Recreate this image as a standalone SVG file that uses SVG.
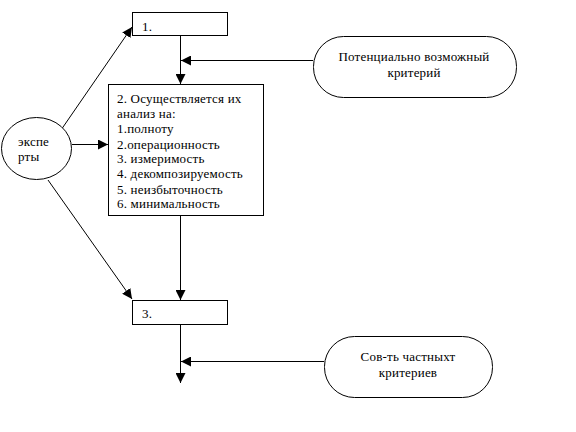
<svg xmlns="http://www.w3.org/2000/svg" width="576" height="432" viewBox="0 0 576 432">
<style>
text{font-family:"Liberation Serif","Times New Roman",serif;font-size:13px;letter-spacing:0.2px;fill:#000}
.b{fill:#fff;stroke:#000;stroke-width:1}
.c{fill:none;stroke:#000;stroke-width:1}
</style>
<defs>
<marker id="a" markerUnits="userSpaceOnUse" markerWidth="12" markerHeight="10" refX="10" refY="5" orient="auto">
<path d="M0,0 L10,5 L0,10 Z" fill="#000"/>
</marker>
</defs>
<rect width="576" height="432" fill="#fff"/>
<g id="connectors">
<line class="c" x1="180.5" y1="35" x2="180.5" y2="84" marker-end="url(#a)"/>
<line class="c" x1="313" y1="60.5" x2="181" y2="60.5" marker-end="url(#a)"/>
<line class="c" x1="72" y1="144.5" x2="108" y2="144.5" marker-end="url(#a)"/>
<line class="c" x1="61" y1="130" x2="132" y2="27" marker-end="url(#a)"/>
<line class="c" x1="48" y1="180" x2="132" y2="299" marker-end="url(#a)"/>
<line class="c" x1="180.5" y1="215" x2="180.5" y2="300" marker-end="url(#a)"/>
<line class="c" x1="180.5" y1="324" x2="180.5" y2="383" marker-end="url(#a)"/>
<line class="c" x1="324" y1="361.5" x2="181" y2="361.5" marker-end="url(#a)"/>
</g>
<g id="n1">
<rect class="b" x="132.5" y="12.5" width="95" height="23"/>
<text x="142" y="31">1.</text>
</g>
<g id="n2">
<rect class="b" x="108.5" y="84.5" width="155" height="131"/>
<text x="117" y="103">2. Осуществляется их</text>
<text x="117" y="118">анализ на:</text>
<text x="117" y="133">1.полноту</text>
<text x="117" y="149">2.операционность</text>
<text x="117" y="163">3. измеримость</text>
<text x="117" y="178">4. декомпозируемость</text>
<text x="117" y="194">5. неизбыточность</text>
<text x="117" y="208">6. минимальность</text>
</g>
<g id="n3">
<rect class="b" x="132.5" y="300.5" width="95" height="24"/>
<text x="142" y="318">3.</text>
</g>
<g id="experts">
<ellipse class="b" cx="36.5" cy="148.5" rx="35" ry="31"/>
<text x="18" y="146">экспе</text>
<text x="18" y="161">рты</text>
</g>
<g id="potential">
<rect class="b" x="313.5" y="36.5" width="203" height="61" rx="30" ry="30"/>
<text x="414" y="61" text-anchor="middle">Потенциально возможный</text>
<text x="414" y="77" text-anchor="middle">критерий</text>
</g>
<g id="partial">
<rect class="b" x="324.5" y="336.5" width="168" height="61" rx="30" ry="30"/>
<text x="408" y="361" text-anchor="middle">Сов-ть частныхт</text>
<text x="408" y="377" text-anchor="middle">критериев</text>
</g>
</svg>
